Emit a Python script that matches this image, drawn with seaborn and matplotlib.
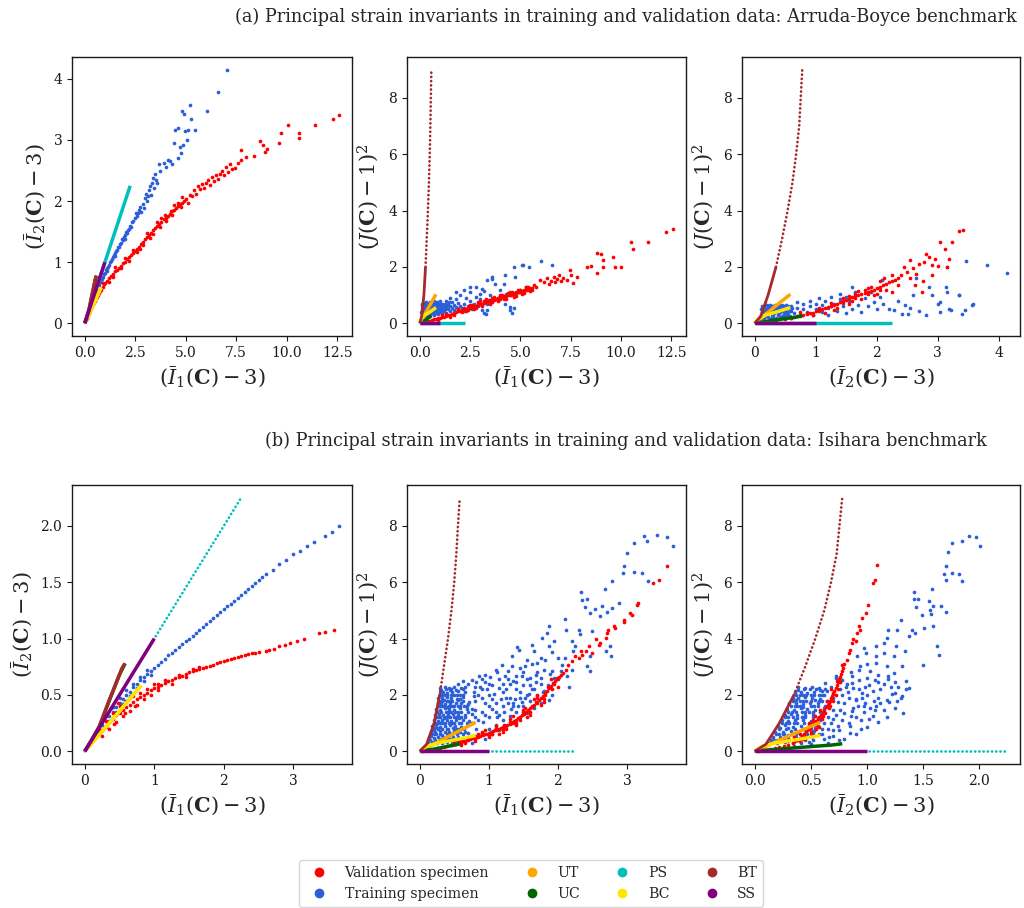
import matplotlib
matplotlib.use("Agg")
import matplotlib.pyplot as plt
import seaborn as sns
from matplotlib.lines import Line2D

# ---------------- colours ----------------
C_VAL, C_TRAIN = "#ff0000", "#2b5fd9"
C_UT, C_UC, C_PS, C_BC, C_BT, C_SS = "#ffa500", "#006400", "#00bfbf", "#ffe600", "#a52a2a", "#800080"

# ---------------- load cases (I1-3, I2-3, (J-1)^2) ----------------
UT_I1 = [0, 0.09, 0.27, 0.52, 0.81]
UT_I2 = [0, 0.066, 0.19, 0.37, 0.585]
UT_J = [0, 0.11, 0.34, 0.66, 1.03]
UC_I1 = [0, 0.1, 0.21, 0.29, 0.41, 0.5, 0.58]
UC_I2 = [0, 0.1, 0.22, 0.35, 0.54, 0.68, 0.78]
UC_J = [0, 0.04, 0.08, 0.12, 0.18, 0.22, 0.27]
PS_I1 = [0, 2.25]
PS_I2 = [0, 2.25]
PS_J = [0, 0]
BC_I1 = [0, 0.09, 0.27, 0.52, 0.81]
BC_I2 = [0, 0.066, 0.19, 0.37, 0.585]
BC_J = [0, 0.17, 0.3, 0.41, 0.56]
BT_I1 = [0, 0.1, 0.21, 0.29, 0.35, 0.41, 0.46, 0.5, 0.53, 0.554, 0.58]
BT_I2 = [0, 0.1, 0.22, 0.35, 0.45, 0.54, 0.62, 0.68, 0.73, 0.755, 0.78]
BT_J = [0, 0.25, 1, 2, 3, 4, 5, 6, 7, 8, 9]
SS_I1 = [0, 1.0]
SS_I2 = [0, 1.0]
SS_J = [0, 0]

# ---------------- Arruda-Boyce specimens ----------------
ab_val_I1_I2 = [
    (0.05,0.05),(0.1,0.09),(0.15,0.13),(0.2,0.17),(0.25,0.21),(0.3,0.25),(0.35,0.28),(0.4,0.31),(0.45,0.35),(0.5,0.37),
    (0.55,0.41),(0.6,0.43),(0.65,0.47),(0.7,0.5),(0.75,0.53),(0.8,0.55),(0.9,0.6),(0.95,0.64),(1.0,0.66),(1.1,0.7),
    (1.2,0.74),(1.3,0.78),(1.4,0.8),(1.5,0.85),(1.6,0.88),(1.7,0.91),(1.8,0.94),(1.9,0.98),(2.0,1.01),(2.1,1.05),
    (2.2,1.08),(2.3,1.11),(2.4,1.15),(2.5,1.18),(2.6,1.22),(2.7,1.25),(2.8,1.3),(2.9,1.33),(3.0,1.38),(3.1,1.41),
    (3.2,1.45),(3.3,1.48),(3.4,1.52),(3.5,1.56),(3.6,1.59),(3.7,1.63),(3.8,1.66),(3.9,1.7),(4.0,1.73),(4.1,1.76),
    (4.2,1.79),(4.3,1.83),(4.4,1.86),(4.5,1.89),(4.6,1.92),(4.7,1.95),(4.8,1.97),(4.9,2.0),(5.0,2.03),
    (0.6,0.48),(1.2,0.68),(1.8,0.9),(2.0,1.07),(2.6,1.16),(3.1,1.47),(3.4,1.46),(3.8,1.72),(4.3,1.78),(4.6,1.97),
    (5.1,1.97),(5.2,2.1),(1.4,0.75),(0.9,0.66),(2.4,1.2),(2.9,1.28),(3.6,1.65),(4.0,1.68),(4.4,1.93),(4.8,2.06),
    (1.5,0.92),(2.2,1.02),(2.75,1.21),(3.25,1.4),(3.75,1.58),(4.25,1.84),(4.75,1.9),(3.95,1.77),
    (5.3,2.08),(5.4,2.18),(5.5,2.12),(5.6,2.25),(5.7,2.2),(5.8,2.28),(5.9,2.22),(6.0,2.3),(6.1,2.35),(6.2,2.27),
    (6.3,2.4),(6.4,2.33),(6.5,2.42),(6.6,2.36),(6.7,2.45),(6.8,2.5),(6.9,2.43),(7.0,2.55),(7.1,2.47),(7.2,2.6),
    (7.3,2.52),(7.45,2.54),(7.6,2.62),(7.72,2.67),(7.72,2.84),(8.0,2.72),(8.4,2.73),(8.7,2.98),(8.8,2.92),(8.9,2.8),
    (9.0,2.86),(9.6,2.95),(9.7,3.12),(10.05,3.25),(10.6,3.12),(10.6,3.03),(11.4,3.25),(12.3,3.35),(12.6,3.41)]
ab_train_I1_I2 = [
    (0.1,0.1),(0.2,0.19),(0.3,0.28),(0.4,0.36),(0.5,0.45),(0.6,0.55),(0.7,0.62),(0.8,0.68),(0.9,0.76),(1.0,0.82),
    (1.05,0.88),(1.1,0.9),(1.2,0.95),(1.25,1.0),(1.3,1.02),(1.4,1.08),(1.45,1.12),(1.5,1.15),(1.6,1.2),(1.65,1.25),
    (1.7,1.25),(1.8,1.32),(1.85,1.38),(1.9,1.37),(2.0,1.45),(2.05,1.5),(2.1,1.48),(2.2,1.55),(2.25,1.6),(2.3,1.58),
    (2.4,1.68),(2.5,1.72),(2.55,1.8),(2.6,1.75),(2.7,1.85),(2.75,1.9),(2.8,1.82),(2.9,1.95),(3.0,2.05),(3.05,2.12),
    (3.1,2.0),(3.2,2.18),(3.25,2.25),(3.3,2.1),(3.4,2.38),(3.45,2.22),(3.5,2.45),(3.6,2.3),(3.7,2.6),(3.75,2.5),
    (3.9,2.62),(4.0,2.55),(4.1,2.68),(4.3,2.6),(4.45,3.17),(4.6,3.2),(4.7,2.88),(4.75,2.78),(4.8,3.47),(4.85,2.92),
    (4.95,3.14),(5.05,3.0),(5.1,3.16),(5.2,3.57),(5.45,3.16),(6.06,3.47),(6.6,3.79),(7.06,4.15),(4.9,3.42),(5.25,3.35),
    (3.35,2.3),(2.95,1.88),(2.0,1.38),(1.5,1.1),(1.1,0.85),(0.95,0.8),(1.35,1.05),(1.75,1.3),(2.15,1.52),(2.35,1.65),
    (2.65,1.8),(3.15,2.08),(3.55,2.35),(4.2,2.65),(4.4,2.95),(4.6,2.7),(0.85,0.72),(1.15,0.92),(1.55,1.18),(1.95,1.42)]
ab_val_I1_J = [
    (0.2,0.04),(0.4,0.08),(0.6,0.12),(0.8,0.15),(1.0,0.2),(1.2,0.24),(1.4,0.29),(1.6,0.34),(1.8,0.4),(2.0,0.45),
    (2.2,0.5),(2.4,0.55),(2.6,0.58),(2.8,0.63),(3.0,0.68),(3.2,0.72),(3.4,0.78),(3.6,0.82),(3.8,0.87),(4.0,0.92),
    (4.2,0.96),(4.4,1.0),(4.6,1.04),(4.8,1.08),(5.0,1.12),(5.2,1.17),(5.4,1.22),(5.6,1.27),
    (0.3,0.06),(0.5,0.1),(0.7,0.14),(0.9,0.18),(1.1,0.22),(1.3,0.27),(1.5,0.31),(1.7,0.37),(1.9,0.43),(2.1,0.47),
    (2.3,0.52),(2.5,0.56),(2.7,0.6),(2.9,0.65),(3.1,0.7),(3.3,0.75),(3.5,0.8),(3.7,0.84),(3.9,0.9),(4.1,0.94),
    (4.3,0.98),(4.5,1.02),(4.7,1.06),(4.9,1.1),(5.1,1.14),(5.3,1.2),(5.5,1.24),
    (3.2,0.8),(3.6,0.74),(4.0,1.0),(4.2,0.88),(4.6,1.12),(4.8,0.98),(5.0,1.2),(5.2,1.08),(5.4,1.3),(5.6,1.2),
    (2.6,0.66),(2.8,0.56),(2.2,0.56),(2.4,0.48),
    (1.1,0.28),(1.5,0.22),(1.9,0.5),(2.3,0.42),(2.5,0.66),(2.7,0.52),(2.9,0.75),(3.1,0.6),(3.3,0.85),(3.5,0.7),
    (3.7,0.95),(3.9,0.8),(4.1,1.02),(4.3,0.85),(4.5,1.1),(4.7,0.95),(4.9,1.2),(5.1,1.05),(5.3,1.3),(5.5,1.15),
    (5.7,1.35),(5.8,1.3),(0.9,0.12),(1.3,0.33),(1.7,0.3),(2.1,0.4),(3.0,0.78),(3.6,0.9),(4.4,1.08),(4.0,0.85),
    (2.45,0.6),(2.9,0.68),(3.3,0.76),(3.75,0.86),(4.15,0.92),(4.55,1.0),(4.95,1.1),(5.35,1.2),(3.45,0.83),(4.75,1.03),
    (6.0,1.54),(6.2,1.45),(6.3,1.62),(6.4,1.38),(6.5,1.5),(6.65,1.65),(6.7,1.45),(6.8,1.58),(6.9,1.72),(7.0,1.5),
    (7.1,1.62),(7.3,1.55),(7.47,1.89),(7.5,1.7),(7.64,1.42),(7.8,1.65),(8.3,2.0),(8.5,2.05),(8.8,2.48),(8.8,1.77),
    (9.0,2.45),(9.1,2.25),(9.1,2.0),(9.6,2.36),(9.7,2.0),(10.0,2.0),(10.5,2.9),(10.6,2.62),(11.35,2.9),(12.26,3.25),
    (12.6,3.33)]
ab_train_I1_J = [
    (0.1,0.3),(0.1,0.5),(0.1,0.7),(0.2,0.25),(0.2,0.4),(0.2,0.55),(0.2,0.72),(0.3,0.3),(0.3,0.45),(0.3,0.62),
    (0.3,0.75),(0.4,0.35),(0.4,0.5),(0.4,0.68),(0.5,0.28),(0.5,0.42),(0.5,0.58),(0.5,0.76),(0.6,0.35),(0.6,0.5),
    (0.6,0.66),(0.7,0.3),(0.7,0.45),(0.7,0.6),(0.7,0.78),(0.8,0.38),(0.8,0.55),(0.8,0.7),(0.9,0.32),(0.9,0.48),
    (0.9,0.64),(1.0,0.4),(1.0,0.58),(1.0,0.78),(1.1,0.35),(1.1,0.52),(1.1,0.7),(1.2,0.45),(1.2,0.62),(1.3,0.38),
    (1.3,0.55),(1.3,0.8),(1.4,0.5),(1.4,0.68),(1.5,0.42),(1.5,0.6),(1.5,0.9),(1.6,0.55),(1.6,0.75),(1.7,0.48),
    (1.7,0.65),(1.8,0.58),(1.8,0.85),(1.9,0.5),(1.9,0.72),(2.0,0.62),(2.0,1.0),(2.1,0.55),(2.2,0.7),(2.2,0.45),
    (2.3,0.9),(2.4,0.6),(2.5,0.8),(2.5,1.1),(2.6,0.5),(2.7,0.7),(2.8,0.95),(2.9,0.6),(3.0,0.85),(3.1,0.46),
    (3.2,1.15),(3.27,0.34),(3.35,0.7),(3.35,1.52),(3.6,1.58),(3.76,1.41),(3.18,0.35),(3.35,0.47),(1.78,1.11),(2.52,1.29),
    (3.1,1.23),(4.26,1.7),(4.67,2.0),(4.75,1.64),(5.12,2.08),(5.45,2.0),(6.04,2.22),(6.57,2.06),(4.5,0.58),(4.59,0.38),
    (4.26,0.7),(4.67,0.53),(4.5,0.47),(3.6,1.65),(5.08,2.07),(2.2,1.2),(2.8,1.3),(3.0,1.05),(3.5,1.0),(4.0,1.2),
    (4.2,1.4),(3.9,0.9),(4.3,1.05),(4.8,1.1),(5.0,1.2),(5.3,1.3),(0.15,0.4),(0.25,0.62),(0.35,0.55),(0.45,0.72),
    (0.55,0.35),(0.65,0.58),(0.75,0.4),(0.85,0.62),(0.95,0.5),(1.05,0.68),(1.15,0.6),(1.25,0.5),(1.35,0.62),(1.45,0.75),
    (0.15,0.3),(0.15,0.55),(0.15,0.7),(0.25,0.35),(0.25,0.5),(0.25,0.7),(0.35,0.3),(0.35,0.42),(0.35,0.7),(0.45,0.3),
    (0.45,0.5),(0.45,0.62),(0.55,0.45),(0.55,0.6),(0.55,0.75),(0.65,0.4),(0.65,0.7),(0.75,0.5),(0.75,0.68),(0.85,0.45),
    (0.85,0.75),(0.95,0.4),(0.95,0.7),(1.05,0.45),(1.05,0.62),(1.15,0.45),(1.25,0.7),(0.12,0.6),(0.08,0.4)]
ab_val_I2_J = [
    (0.2,0.05),(0.35,0.1),(0.5,0.15),(0.6,0.2),(0.7,0.25),(0.8,0.3),(0.9,0.35),(1.0,0.42),(1.1,0.5),(1.2,0.58),
    (1.3,0.65),(1.4,0.75),(1.5,0.82),(1.6,0.92),(1.7,1.0),(1.8,1.08),(1.9,1.15),(2.0,1.25),(2.1,1.35),(2.2,1.45),
    (2.3,1.55),(2.4,1.7),(2.5,1.82),(2.6,1.95),(2.7,2.1),
    (0.65,0.22),(0.75,0.27),(0.85,0.32),(0.95,0.38),(1.05,0.46),(1.15,0.54),(1.25,0.61),(1.35,0.7),(1.45,0.78),
    (1.55,0.87),(1.65,0.96),(1.75,1.04),(1.85,1.11),(1.95,1.2),(2.05,1.3),(2.15,1.4),(2.25,1.5),(2.35,1.62),
    (0.75,0.4),(0.95,0.28),(1.05,0.55),(1.15,0.38),(1.25,0.72),(1.35,0.55),(1.45,0.9),(1.55,0.7),(1.65,1.05),(1.75,0.85),
    (1.85,1.25),(1.95,1.0),(2.05,1.5),(2.15,1.2),(2.25,1.7),(2.35,1.35),(2.45,2.0),(2.55,1.6),(2.65,1.75),(2.75,1.5),
    (2.85,2.35),(2.9,1.7),(2.96,2.3),(2.63,1.35),(2.74,1.11),(2.25,1.11),(3.18,2.3),(3.15,2.0),(3.0,2.05),(2.8,2.45),
    (2.55,2.25),(1.3,0.48),(1.6,0.8),(1.9,1.3),(2.0,1.05),(1.7,1.15),(1.05,0.45),(1.25,0.6),(1.45,0.72),(1.65,0.9),
    (1.85,1.05),(2.05,1.2),(0.85,0.38),(1.55,0.98),(1.8,1.18),(2.12,1.6),
    (3.04,2.88),(3.12,2.62),(3.23,2.9),(3.35,3.26),(3.41,3.3),(2.9,2.07),(2.77,2.17)]
ab_train_I2_J = [
    (0.05,0.15),(0.1,0.3),(0.1,0.5),(0.15,0.2),(0.15,0.6),(0.2,0.35),(0.2,0.5),(0.25,0.15),(0.25,0.65),(0.3,0.3),
    (0.3,0.45),(0.35,0.2),(0.35,0.6),(0.4,0.35),(0.4,0.5),(0.45,0.25),(0.45,0.65),(0.5,0.4),(0.5,0.55),(0.55,0.3),
    (0.55,0.62),(0.6,0.45),(0.6,0.2),(0.15,0.42),(0.25,0.4),(0.35,0.4),(0.45,0.45),(0.5,0.25),(0.2,0.65),(0.3,0.6),
    (0.4,0.65),(0.08,0.22),(0.12,0.4),(0.18,0.28),(0.22,0.58),(0.28,0.52),(0.32,0.38),(0.38,0.28),(0.42,0.58),(0.48,0.32),
    (0.52,0.48),(0.58,0.55),(0.22,0.22),(0.28,0.22),(0.38,0.55),(0.48,0.6),(0.55,0.4),(0.6,0.62),(0.33,0.65),(0.18,0.5),
    (0.1,0.2),(0.12,0.6),(0.2,0.25),(0.2,0.42),(0.28,0.3),(0.28,0.62),(0.32,0.5),(0.38,0.45),(0.42,0.22),(0.42,0.4),
    (0.48,0.5),(0.52,0.65),(0.52,0.35),(0.58,0.25),(0.58,0.45),(0.62,0.55),(0.25,0.55),(0.35,0.5),(0.45,0.55),(0.15,0.35),
    (0.3,0.2),(0.5,0.18),
    (0.65,0.35),(0.7,0.55),(0.7,0.75),(0.75,0.3),(0.8,0.5),(0.8,0.7),(0.85,0.4),(0.9,0.6),(0.9,0.8),(0.95,0.3),
    (1.0,0.5),(1.0,0.7),(1.05,0.9),(1.1,0.4),(1.1,0.65),(1.15,0.8),(1.2,0.3),(1.2,0.55),(1.25,0.95),(1.3,0.7),
    (1.35,0.45),(1.4,0.85),(1.4,1.05),(1.45,0.6),(1.5,0.35),(1.5,0.95),(1.55,0.75),(1.6,1.29),(1.6,0.5),(1.65,1.1),
    (1.7,0.65),(1.75,0.4),(1.8,0.9),(1.85,0.6),(1.9,1.1),(1.95,0.75),(2.0,0.5),(2.05,0.95),(2.09,1.52),(2.1,0.7),
    (2.2,0.52),(2.28,0.46),(2.35,0.8),(2.42,0.34),(2.47,0.64),(2.52,0.34),(2.55,0.55),(2.6,1.0),
    (3.01,0.7),(3.03,0.74),(3.14,1.29),(3.15,1.11),(3.15,2.0),(3.04,0.4),(3.19,0.5),(3.21,0.46),(3.34,0.99),(3.35,1.0),
    (3.4,0.34),(3.44,0.47),(3.46,2.2),(3.56,0.64),(3.58,0.67),(3.8,2.06),(4.14,1.78),(2.8,0.3),(2.7,0.45),(2.85,1.3),
    (2.65,1.6),(2.9,1.0)]

# ---------------- Isihara specimens ----------------
isi_val_I1_I2 = [
    (0.05,0.045),(0.1,0.09),(0.15,0.13),(0.2,0.16),(0.25,0.19),(0.3,0.22),(0.35,0.26),(0.4,0.29),(0.45,0.32),(0.5,0.34),
    (0.55,0.37),(0.6,0.39),(0.65,0.41),(0.7,0.44),(0.75,0.46),(0.8,0.48),(0.85,0.5),(0.9,0.52),(0.95,0.54),(1.0,0.56),
    (1.1,0.59),(1.2,0.62),(1.3,0.65),(1.4,0.67),(1.5,0.7),(1.6,0.72),(1.7,0.74),(1.8,0.76),(1.9,0.78),(2.0,0.8),
    (2.1,0.82),(2.2,0.84),(2.3,0.85),(2.4,0.87),(2.5,0.88),
    (1.05,0.575),(1.15,0.605),(1.25,0.635),(1.35,0.66),(1.45,0.685),(1.55,0.71),(1.65,0.73),(1.75,0.75),(1.85,0.77),
    (1.95,0.79),(2.05,0.81),(2.15,0.83),(2.25,0.845),(2.35,0.86),(2.45,0.875),
    (0.2,0.2),(0.25,0.14),(0.3,0.27),(0.35,0.2),(0.4,0.34),(0.45,0.26),(0.5,0.4),(0.55,0.31),(0.6,0.45),(0.65,0.36),
    (0.7,0.49),(0.75,0.41),(0.8,0.52),(0.85,0.46),(0.9,0.55),(0.95,0.5),(1.0,0.6),(1.05,0.54),(1.15,0.63),(1.25,0.6),
    (1.35,0.68),(1.45,0.66),(0.38,0.38),(0.48,0.43),(0.42,0.24),(0.58,0.34),(0.72,0.4),(1.05,0.6),(1.55,0.73),(1.65,0.75),
    (2.6,0.89),(2.65,0.9),(2.72,0.91),(2.8,0.93),(2.88,0.94),(2.95,0.96),(3.05,0.98),(3.15,1.0),(3.37,1.05),(3.45,1.06),
    (3.58,1.08)]
isi_train_I1_I2 = [
    (0.05,0.05),(0.1,0.09),(0.15,0.14),(0.2,0.18),(0.25,0.23),(0.3,0.27),(0.35,0.31),(0.4,0.35),(0.45,0.39),(0.5,0.43),
    (0.55,0.46),(0.6,0.5),(0.65,0.53),(0.7,0.57),(0.75,0.6),(0.8,0.63),(0.85,0.66),(0.9,0.69),(0.95,0.71),(1.0,0.74),
    (1.1,0.79),(1.2,0.85),(1.3,0.9),(1.4,0.95),(1.5,1.0),(1.6,1.05),(1.7,1.1),(1.8,1.16),(1.9,1.21),(2.0,1.26),
    (2.1,1.31),(2.2,1.36),(2.3,1.41),(2.4,1.47),(2.5,1.52),(2.6,1.57),(2.7,1.61),(2.8,1.66),(2.9,1.7),(3.0,1.75),
    (3.1,1.78),(3.2,1.82),(3.3,1.86),(3.45,1.91),(3.55,1.95),(3.66,2.0),
    (1.05,0.765),(1.15,0.82),(1.25,0.875),(1.35,0.925),(1.45,0.975),(1.55,1.025),(1.65,1.075),(1.75,1.13),(1.85,1.185),
    (1.95,1.235),(2.05,1.285),(2.15,1.335),(2.25,1.385),(2.35,1.44),(2.45,1.495),(2.55,1.545),
    (0.2,0.22),(0.25,0.19),(0.3,0.31),(0.35,0.27),(0.4,0.39),(0.45,0.35),(0.5,0.47),(0.55,0.42),(0.6,0.54),(0.65,0.49),
    (0.7,0.6),(0.75,0.56),(0.8,0.66),(0.85,0.62),(0.9,0.72),(0.95,0.68)]
isi_val_I1_J = [
    (0.05,0.02),(0.1,0.04),(0.15,0.06),(0.2,0.08),(0.25,0.1),(0.3,0.12),(0.35,0.15),(0.4,0.18),(0.45,0.21),(0.5,0.25),
    (0.55,0.29),(0.6,0.33),(0.65,0.37),(0.7,0.41),(0.76,0.46),(0.82,0.5),(0.88,0.55),(0.94,0.6),(1.0,0.65),(1.06,0.71),
    (1.12,0.77),(1.18,0.83),(1.24,0.89),(1.3,0.98),(1.36,1.07),(1.42,1.17),(1.48,1.28),(1.54,1.4),(1.6,1.52),(1.66,1.66),
    (1.72,1.82),(1.78,1.98),(1.84,2.15),(1.9,2.33),(1.96,2.5),(2.02,2.65),(2.08,2.78),
    (0.53,0.27),(0.58,0.31),(0.63,0.35),(0.68,0.39),(0.73,0.44),(0.79,0.48),(0.85,0.52),(0.91,0.57),(0.97,0.62),
    (1.03,0.68),(1.09,0.74),(1.15,0.8),(1.21,0.86),(1.27,0.93),(1.33,1.02),(1.39,1.12),(1.45,1.22),(1.51,1.34),
    (1.57,1.46),(1.63,1.59),(1.69,1.74),(1.75,1.9),(1.81,2.06),(1.87,2.24),(1.93,2.42),(1.99,2.58),(2.05,2.72),
    (0.7,0.48),(0.9,0.6),(1.1,0.82),(1.3,1.05),(1.5,1.38),(1.7,1.9),(1.85,2.3),
    (0.8,0.42),(1.0,0.58),(1.2,0.78),(1.4,1.02),(1.6,1.4),(1.8,1.85),(1.95,2.4),
    (0.5,0.35),(0.6,0.22),(0.7,0.52),(0.8,0.36),(0.9,0.68),(1.0,0.52),(1.1,0.9),(1.2,0.7),(1.3,1.15),(1.4,0.95),
    (1.5,1.45),(1.6,1.3),(1.7,2.0),(1.8,1.75),(1.9,2.55),(2.0,2.3),(0.95,0.75),(1.15,0.62),(1.35,1.25),(1.55,1.2),
    (1.75,1.65),(1.65,1.85),(1.45,1.1),(1.25,0.8),(0.85,0.62),(0.75,0.55),(0.65,0.28),(0.55,0.4),(1.05,0.6),(1.22,0.95),
    (1.38,1.0),(1.52,1.55),(1.62,1.6),(1.7,1.72),(1.82,2.0),(1.92,2.2),(1.98,2.6),
    (2.11,2.9),(2.15,3.05),(2.2,3.2),(2.25,3.37),(2.3,3.3),(2.33,3.55),(2.4,3.55),(2.45,3.72),(2.5,3.5),(2.59,3.78),
    (2.61,3.84),(2.69,4.02),(2.71,4.2),(2.73,4.31),(2.81,4.43),(2.83,4.37),(2.95,4.6),(2.95,4.67),(3.05,4.9),(3.07,4.85),
    (3.14,5.2),(3.16,5.26),(3.38,5.97),(3.46,6.09),(3.58,6.58),(2.55,4.0),(2.35,3.4)]
isi_train_I1_J = [
    (0.12,0.3),(0.18,0.32),(0.25,0.28),(0.32,0.3),(0.4,0.33),(0.47,0.3),(0.55,0.32),
    (0.14,0.5),(0.2,0.48),(0.27,0.52),(0.34,0.5),(0.41,0.47),(0.48,0.52),(0.56,0.5),(0.63,0.48),
    (0.16,0.7),(0.22,0.68),(0.29,0.72),(0.36,0.7),(0.43,0.67),(0.5,0.72),(0.58,0.7),(0.66,0.68),
    (0.18,0.9),(0.24,0.92),(0.3,0.88),(0.37,0.9),(0.44,0.93),(0.51,0.9),(0.6,0.88),(0.7,0.92),
    (0.2,1.1),(0.26,1.08),(0.32,1.12),(0.39,1.1),(0.46,1.07),(0.53,1.12),(0.62,1.1),(0.72,1.08),
    (0.22,1.3),(0.28,1.32),(0.34,1.28),(0.41,1.3),(0.48,1.33),(0.56,1.3),(0.65,1.28),(0.76,1.32),
    (0.24,1.5),(0.3,1.48),(0.36,1.52),(0.43,1.5),(0.5,1.47),(0.58,1.52),(0.68,1.5),(0.8,1.48),
    (0.26,1.7),(0.31,1.72),(0.37,1.68),(0.44,1.7),(0.52,1.73),(0.6,1.7),(0.7,1.68),
    (0.27,1.9),(0.33,1.88),(0.39,1.92),(0.46,1.9),(0.54,1.87),(0.63,1.92),
    (0.29,2.1),(0.34,2.12),(0.4,2.08),(0.47,2.1),(0.56,2.13),(0.66,2.1),
    (0.3,2.25),(0.36,2.27),(0.43,2.24),(0.5,2.28),(0.6,2.26),
    (0.22,0.4),(0.29,0.41),(0.36,0.39),(0.44,0.42),(0.52,0.4),(0.6,0.41),
    (0.17,0.6),(0.24,0.61),(0.32,0.59),(0.39,0.61),(0.47,0.6),(0.54,0.62),(0.62,0.6),
    (0.2,0.8),(0.25,0.81),(0.33,0.79),(0.41,0.8),(0.48,0.81),(0.56,0.79),(0.64,0.8),
    (0.21,1.0),(0.29,1.01),(0.36,0.99),(0.43,1.0),(0.5,1.01),(0.6,0.99),(0.68,1.0),
    (0.23,1.2),(0.3,1.21),(0.35,1.19),(0.44,1.2),(0.5,1.21),(0.57,1.19),(0.66,1.2),
    (0.31,1.41),(0.38,1.39),(0.43,1.41),(0.51,1.4),(0.6,1.39),(0.7,1.41),
    (0.27,1.6),(0.32,1.61),(0.39,1.59),(0.42,1.62),(0.5,1.6),(0.58,1.61),(0.68,1.6),
    (0.28,1.8),(0.35,1.81),(0.39,1.79),(0.47,1.8),(0.55,1.81),(0.63,1.79),
    (0.29,2.0),(0.33,2.01),(0.4,1.99),(0.46,2.0),(0.54,2.01),(0.58,1.99),
    (0.31,2.19),(0.38,2.2),(0.46,2.21),(0.53,2.19),(0.63,2.2),
    (0.15,0.4),(0.21,0.6),(0.27,0.8),(0.33,1.0),(0.4,1.2),(0.46,1.4),(0.35,1.6),(0.42,1.8),(0.5,2.0),(0.28,1.2),
    (0.2,0.82),(0.3,0.6),(0.38,0.4),(0.45,0.6),(0.52,0.8),(0.57,1.0),(0.25,1.4),(0.29,1.6),(0.32,1.8),(0.36,2.0),
    (0.48,1.6),(0.55,1.4),(0.6,1.2),(0.64,1.6),(0.58,1.85),(0.62,2.0),(0.44,2.18),(0.26,1.0),(0.19,0.75),(0.17,0.55),
    (0.22,1.0),(0.24,1.2),(0.31,0.42),(0.39,0.8),(0.47,1.0),(0.53,1.22),(0.4,1.4),(0.45,1.6),(0.55,1.6),(0.38,1.2),
    (0.7,2.4),(0.75,2.54),(0.8,2.3),(0.86,2.66),(0.9,2.2),(0.95,2.72),(0.95,2.45),(1.0,2.0),(1.05,2.35),(1.1,2.9),
    (1.1,1.7),(1.15,2.55),(1.2,2.1),(1.19,3.07),(1.24,2.66),(1.25,1.9),(1.3,2.4),(1.33,3.01),(1.34,3.37),(1.35,1.6),
    (1.39,2.66),(1.4,2.2),(1.43,3.61),(1.41,3.7),(1.45,1.9),(1.48,2.66),(1.5,2.35),(1.53,3.01),(1.55,2.0),(1.6,2.6),
    (1.63,3.78),(1.65,3.55),(1.65,2.2),(1.7,3.13),(1.7,2.8),(1.75,2.4),(1.77,4.02),(1.8,2.9),(1.84,4.2),(1.87,4.43),
    (1.87,3.72),(1.87,1.83),(1.92,3.51),(1.92,2.0),(1.95,2.6),(2.0,3.3),(2.06,3.07),(2.1,4.69),(2.11,4.31),(2.13,2.66),
    (2.16,2.3),(2.2,2.9),(2.3,4.31),(2.32,4.16),(2.34,5.67),(2.35,5.38),(2.39,5.12),(2.42,5.4),(2.42,3.01),(2.47,2.84),
    (2.47,3.37),(2.47,4.9),(2.49,4.26),(2.54,5.05),(2.61,4.79),(2.64,5.17),(2.68,5.76),(2.69,3.55),(2.71,4.93),(2.76,3.72),
    (2.77,3.37),(2.78,5.08),(2.78,6.03),(2.88,5.26),(2.94,6.32),(2.95,6.56),(3.0,7.03),(3.1,7.39),(3.1,6.35),(3.22,6.32),
    (3.25,7.65),(3.29,7.45),(3.31,6.05),(3.44,7.66),(3.58,7.59),(3.67,7.3),
    (0.6,0.3),(0.7,0.42),(0.8,0.55),(0.75,0.3),(0.9,0.65),(0.95,0.45),(1.0,0.8),(1.05,0.6),(1.1,0.95),(1.15,0.75),
    (1.2,1.1),(1.25,0.9),(1.3,1.25),(1.35,1.05),(1.4,1.4),(1.45,1.2),(1.5,1.6),(1.55,1.35),(1.6,1.8),(1.65,1.55),
    (1.7,1.95),(1.75,1.7),(1.8,2.15),(0.85,1.1),(0.9,1.4),(0.95,1.7),(1.0,1.2),(1.05,1.5),(0.8,1.8),(0.75,1.5),
    (0.85,2.0),(1.15,1.3),(1.2,1.6),(1.3,1.9),(1.35,1.7),(1.45,2.1),(1.25,2.2),(0.65,2.3),(0.78,2.1),(0.9,1.9),
    (1.0,1.6),(1.1,1.4),(1.2,2.4),(1.35,2.5),(1.55,2.55),(1.6,2.35),(1.75,2.6),(1.85,2.35),(2.0,2.55),(2.05,2.85),
    (0.55,2.4),(0.62,2.5),(0.82,2.45),(1.02,2.62),(1.12,2.8),(1.28,2.85),(1.45,2.95),(1.62,3.1),(1.82,3.25),(2.25,3.75),
    (0.75,1.0),(0.8,1.2),(0.72,1.75),(0.78,1.95),(0.88,2.3),(0.98,2.2),(1.08,2.05),(1.18,1.85),(1.28,1.7),(1.38,1.85),
    (1.48,1.75),(1.58,2.05),(1.68,2.45),(1.78,2.1),(1.88,2.75),(1.05,1.85),(0.95,1.3),(1.12,1.2),(0.92,1.05),(0.82,0.8),
    (0.7,0.65),(1.22,1.4),(1.32,1.5),(1.42,1.6),(1.52,1.9),(1.62,2.2),(0.9,2.55),(1.0,2.4),(1.15,2.25),(1.28,2.55),
    (1.4,2.45),(1.5,2.8),(1.68,2.7),(1.92,2.85),(2.1,3.3),(2.22,3.55),(1.75,3.3),(1.55,3.25),(1.95,3.9),(2.2,3.9)]
isi_val_I2_J = [
    (0.03,0.01),(0.06,0.03),(0.1,0.05),(0.14,0.08),(0.18,0.11),(0.22,0.15),(0.26,0.19),(0.3,0.24),(0.34,0.3),(0.38,0.4),
    (0.42,0.55),(0.46,0.72),(0.48,0.8),(0.5,0.9),(0.53,1.02),(0.56,1.15),(0.59,1.3),(0.62,1.47),(0.65,1.65),(0.67,1.8),
    (0.69,1.98),(0.71,2.15),(0.73,2.35),(0.75,2.55),(0.77,2.75),(0.79,2.95),(0.8,3.1),
    (0.36,0.35),(0.4,0.47),(0.44,0.63),(0.47,0.76),(0.49,0.85),(0.515,0.96),(0.545,1.08),(0.575,1.22),(0.605,1.38),
    (0.635,1.56),(0.66,1.72),(0.68,1.89),(0.7,2.06),(0.72,2.25),(0.74,2.45),(0.76,2.65),(0.78,2.85),
    (0.4,0.35),(0.45,0.5),(0.5,0.7),(0.55,0.95),(0.6,1.15),(0.63,1.35),(0.66,1.55),(0.7,1.8),(0.72,2.0),(0.74,2.2),
    (0.76,2.45),(0.44,0.8),(0.52,1.1),(0.58,1.45),(0.64,1.8),(0.68,2.2),(0.35,0.5),(0.4,0.6),(0.45,0.45),(0.5,0.6),
    (0.55,0.78),(0.3,0.35),(0.48,1.0),(0.57,0.85),(0.61,1.25),(0.67,1.6),(0.7,2.05),(0.73,2.5),(0.42,0.45),(0.54,1.25),
    (0.82,3.25),(0.84,3.5),(0.85,3.6),(0.87,3.84),(0.88,4.0),(0.91,4.2),(0.93,4.43),(0.94,4.3),(0.96,4.73),(0.99,4.9),
    (1.01,5.2),(1.05,5.97),(1.07,6.09),(1.09,6.6),(0.9,3.9),(0.78,3.05)]
isi_train_I2_J = [
    (0.13,0.3),(0.2,0.28),(0.27,0.32),(0.34,0.3),(0.41,0.28),(0.48,0.32),
    (0.16,0.5),(0.23,0.52),(0.3,0.48),(0.37,0.5),(0.44,0.53),(0.51,0.5),
    (0.18,0.7),(0.25,0.68),(0.32,0.72),(0.39,0.7),(0.46,0.67),(0.53,0.72),
    (0.21,0.9),(0.27,0.92),(0.34,0.88),(0.41,0.9),(0.48,0.93),(0.56,0.9),
    (0.24,1.1),(0.3,1.08),(0.36,1.12),(0.43,1.1),(0.5,1.07),(0.58,1.12),
    (0.27,1.3),(0.32,1.32),(0.38,1.28),(0.45,1.3),(0.52,1.33),(0.6,1.3),
    (0.29,1.5),(0.35,1.48),(0.41,1.52),(0.47,1.5),(0.54,1.47),(0.62,1.52),
    (0.31,1.7),(0.37,1.72),(0.43,1.68),(0.49,1.7),(0.56,1.73),
    (0.34,1.9),(0.39,1.88),(0.45,1.92),(0.51,1.9),(0.58,1.87),
    (0.36,2.1),(0.41,2.12),(0.47,2.08),(0.53,2.1),(0.6,2.13),
    (0.39,2.27),(0.45,2.25),(0.51,2.28),(0.57,2.24),
    (0.17,0.4),(0.24,0.41),(0.31,0.39),(0.38,0.41),(0.45,0.4),(0.52,0.41),
    (0.19,0.6),(0.26,0.61),(0.3,0.59),(0.37,0.61),(0.44,0.6),(0.52,0.62),(0.57,0.6),
    (0.22,0.8),(0.3,0.81),(0.36,0.79),(0.43,0.8),(0.54,0.81),(0.6,0.79),
    (0.24,1.0),(0.31,1.01),(0.38,0.99),(0.44,1.0),(0.5,1.01),(0.62,0.99),
    (0.27,1.2),(0.34,1.21),(0.38,1.19),(0.45,1.2),(0.52,1.21),(0.56,1.19),(0.65,1.2),
    (0.3,1.4),(0.37,1.41),(0.42,1.39),(0.45,1.41),(0.52,1.4),(0.62,1.39),
    (0.32,1.6),(0.38,1.61),(0.43,1.59),(0.5,1.6),(0.53,1.62),(0.63,1.6),
    (0.34,1.8),(0.37,1.81),(0.43,1.79),(0.5,1.8),(0.54,1.81),(0.57,1.79),(0.64,1.8),
    (0.37,2.0),(0.4,2.01),(0.46,1.99),(0.53,2.0),(0.57,2.01),(0.6,1.99),
    (0.39,2.19),(0.44,2.2),(0.49,2.21),(0.58,2.19),(0.63,2.21),
    (0.15,0.4),(0.22,0.6),(0.28,0.8),(0.35,1.0),(0.42,1.2),(0.48,1.4),(0.4,1.6),(0.46,1.8),(0.5,2.0),(0.3,1.2),
    (0.23,0.82),(0.33,0.6),(0.4,0.4),(0.47,0.6),(0.5,0.8),(0.55,1.0),(0.33,1.4),(0.36,1.6),(0.4,1.8),(0.43,2.0),
    (0.56,1.6),(0.58,1.4),(0.6,1.2),(0.6,1.8),(0.62,2.0),(0.55,2.2),(0.2,0.4),(0.26,0.45),(0.28,1.0),(0.25,0.6),
    (0.6,0.6),(0.65,0.8),(0.62,0.45),(0.7,0.55),(0.68,1.0),(0.72,1.3),(0.66,1.6),(0.7,1.9),(0.68,2.3),(0.75,0.75),
    (0.78,1.1),(0.76,1.45),(0.8,1.7),(0.78,2.0),(0.82,2.4),(0.85,0.9),(0.86,1.25),(0.88,1.55),(0.9,1.85),(0.93,2.2),
    (0.95,1.1),(0.97,1.4),(0.98,1.7),(1.0,2.0),(1.02,2.35),(1.05,1.25),(1.08,1.6),(1.1,1.9),(1.12,2.2),(1.15,1.45),
    (1.2,1.75),(1.22,2.05),(0.72,2.6),(0.63,2.42),(0.87,2.66),(0.93,2.54),(1.07,2.54),(1.19,2.66),(0.9,0.6),(0.8,0.45),
    (1.0,0.85),(1.1,1.05),(1.25,1.55),(1.3,1.9),(1.35,2.2),(0.35,0.2),(0.5,0.25),(0.65,0.3),(0.7,1.15),(0.64,2.15),
    (0.66,0.5),(0.74,0.9),(0.7,1.45),(0.74,1.75),(0.76,2.2),(0.84,1.0),(0.8,1.35),(0.84,1.9),(0.9,1.2),(0.92,1.6),
    (0.96,1.9),(0.98,2.3),(1.02,1.15),(1.03,1.55),(1.05,2.15),(1.12,1.7),(1.15,2.4),(1.18,1.2),(1.27,1.8),(1.28,2.3),
    (1.32,1.35),(0.83,2.1),(0.88,2.25),(0.95,0.8),(0.85,0.65),(0.75,0.4),(0.7,0.75),(1.0,2.6),(1.1,2.45),(1.25,2.45),
    (1.76,7.39),(1.85,7.45),(1.91,7.65),(1.97,7.59),(2.01,7.3),(1.72,7.06),(1.7,6.56),(1.76,6.32),(1.82,6.3),(1.85,6.06),
    (1.69,6.3),(1.7,6.09),(1.58,5.76),(1.42,5.67),(1.42,5.4),(1.45,5.4),(1.44,5.12),(1.55,5.32),(1.56,5.02),(1.59,5.17),
    (1.66,5.17),(1.7,4.96),(1.57,4.87),(1.49,4.85),(1.51,4.37),(1.59,4.43),(1.62,3.72),(1.64,3.43),(1.5,3.07),(1.43,4.2),
    (1.3,4.67),(1.27,4.31),(1.19,4.31),(1.18,4.02),(1.4,4.31),(1.37,4.08),(1.34,3.55),(1.26,3.72),(1.24,3.37),(1.31,3.01),
    (1.35,2.48),(1.37,2.25),(1.21,2.3),(1.18,1.83),(1.15,3.84),(1.15,3.49),(1.08,3.72),(1.08,3.37),(0.97,3.66),(0.99,3.49),
    (0.91,3.37),(1.08,3.13),(1.18,3.01),(1.24,2.78),(1.1,2.72),(1.03,2.84),(0.93,2.9),(0.94,3.01),(1.19,2.55),(1.25,2.07),
    (1.31,1.95),(1.07,1.48),(1.06,1.77),(0.96,2.07),(0.9,1.83),(0.97,1.6),(0.87,1.42),(0.81,2.3),(0.72,2.66),(0.78,2.54),
    (0.87,2.42),(0.86,2.8),(1.0,3.1)]

# ---------------- style ----------------
sns.set_style("ticks")
plt.rcParams["font.family"] = ["DejaVu Serif"]
plt.rcParams["mathtext.fontset"] = "dejavuserif"
plt.rcParams["axes.edgecolor"] = "0.1"
plt.rcParams["axes.linewidth"] = 1.0
plt.rcParams["xtick.color"] = "0.1"
plt.rcParams["ytick.color"] = "0.1"
plt.rcParams["xtick.major.size"] = 3.5
plt.rcParams["ytick.major.size"] = 3.5
plt.rcParams["xtick.major.width"] = 0.8
plt.rcParams["ytick.major.width"] = 0.8

fig = plt.figure(figsize=(10.24, 9.08), dpi=100)
W, H = 1024.0, 908.0

def axes_at(left, right, top, bottom):
    return fig.add_axes([left / W, 1 - bottom / H, (right - left) / W, (bottom - top) / H])

LAB_I1 = r"$(\bar{I}_1(\mathbf{C})-3)$"
LAB_I2 = r"$(\bar{I}_2(\mathbf{C})-3)$"
LAB_J = r"$(J(\mathbf{C})-1)^2$"

LOADS = {
    "UT": (UT_I1, UT_I2, UT_J, C_UT),
    "UC": (UC_I1, UC_I2, UC_J, C_UC),
    "PS": (PS_I1, PS_I2, PS_J, C_PS),
    "BC": (BC_I1, BC_I2, BC_J, C_BC),
    "BT": (BT_I1, BT_I2, BT_J, C_BT),
    "SS": (SS_I1, SS_I2, SS_J, C_SS),
}
DOTS = (0, (0.1, 1.5))

def line(ax, x, y, color, dotted=False, lw=2.5):
    kw = dict(linestyle=DOTS, dash_capstyle="round", linewidth=1.9) if dotted else dict(linewidth=lw, solid_capstyle="butt")
    sns.lineplot(x=list(x), y=list(y), ax=ax, color=color, sort=False, estimator=None, **kw)

def panel(ax, train, val, xi, yi, ps_dotted, xlabel, ylabel):
    tx, ty = zip(*train)
    vx, vy = zip(*val)
    sns.scatterplot(x=list(tx), y=list(ty), ax=ax, s=7, color=C_TRAIN, linewidth=0, marker="o")
    sns.scatterplot(x=list(vx), y=list(vy), ax=ax, s=7, color=C_VAL, linewidth=0, marker="o")
    for name, arrs in LOADS.items():
        x, y, col = arrs[xi], arrs[yi], arrs[3]
        if name == "PS":
            line(ax, x, y, col, dotted=ps_dotted)
        elif name == "BT" and yi == 2:
            J = arrs[2]
            lo = [k for k in range(len(J)) if J[k] <= 2]
            hi = [k for k in range(len(J)) if J[k] >= 2]
            line(ax, [x[k] for k in lo], [y[k] for k in lo], col, lw=2.0)
            line(ax, [x[k] for k in hi], [y[k] for k in hi], col, dotted=True)
        else:
            line(ax, x, y, col)
    ax.set_xlabel(xlabel, fontsize=15)
    ax.set_ylabel(ylabel, fontsize=15)
    ax.tick_params(labelsize=10)
    for sp in ax.spines.values():
        sp.set_visible(True)

cols = [(72, 352), (407, 686), (742, 1020)]
rows = [(57, 336), (485, 764)]

sets = [
    (ab_train_I1_I2, ab_val_I1_I2, ab_train_I1_J, ab_val_I1_J, ab_train_I2_J, ab_val_I2_J, False),
    (isi_train_I1_I2, isi_val_I1_I2, isi_train_I1_J, isi_val_I1_J, isi_train_I2_J, isi_val_I2_J, True),
]
for r, (t12, v12, t1j, v1j, t2j, v2j, dotted) in enumerate(sets):
    top, bottom = rows[r]
    ax1 = axes_at(cols[0][0], cols[0][1], top, bottom)
    panel(ax1, t12, v12, 0, 1, dotted, LAB_I1, LAB_I2)
    ax2 = axes_at(cols[1][0], cols[1][1], top, bottom)
    panel(ax2, t1j, v1j, 0, 2, dotted, LAB_I1, LAB_J)
    ax3 = axes_at(cols[2][0], cols[2][1], top, bottom)
    panel(ax3, t2j, v2j, 1, 2, dotted, LAB_I2, LAB_J)

fig.text(626 / W, 1 - 17 / H,
         "(a) Principal strain invariants in training and validation data: Arruda-Boyce benchmark",
         ha="center", va="center", fontsize=12.8)
fig.text(626 / W, 1 - 441 / H,
         "(b) Principal strain invariants in training and validation data: Isihara benchmark",
         ha="center", va="center", fontsize=12.8)

labels = ["Validation specimen", "Training specimen", "UT", "UC", "PS", "BC", "BT", "SS"]
colors = [C_VAL, C_TRAIN, C_UT, C_UC, C_PS, C_BC, C_BT, C_SS]
handles = [Line2D([], [], marker="o", linestyle="", color=c, markersize=6) for c in colors]
fig.legend(handles, labels, ncol=4, loc="lower center", bbox_to_anchor=(531 / W, 0.0),
           fontsize=10.2, frameon=True, edgecolor="0.8", borderaxespad=0.1)

fig.savefig("out.png", dpi=100)
